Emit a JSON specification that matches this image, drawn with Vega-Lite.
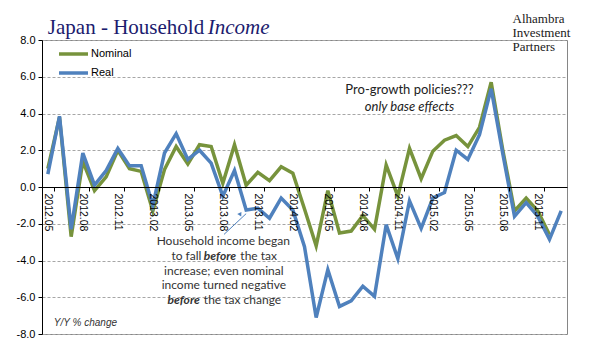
{
  "$schema": "https://vega.github.io/schema/vega-lite/v6.json",
  "width": 525,
  "height": 294,
  "autosize": {"type": "none"},
  "padding": {"left": 42, "top": 40, "right": 29, "bottom": 27},
  "background": "white",
  "config": {
    "view": {"stroke": "#868686", "strokeWidth": 1},
    "font": "Liberation Sans",
    "axisY": {"tickCount": 9, "labelOverlap": false, "labelFlush": false, "grid": true, "gridDash": [3, 2], "gridColor": "#a6a6a6"},
    "axisX": {"labelOverlap": false, "grid": false}
  },
  "data": {"values": [
    {"month": "2012.05", "Nominal": 1.0, "Real": 0.7},
    {"month": "2012.06", "Nominal": 3.8, "Real": 3.85},
    {"month": "2012.07", "Nominal": -2.7, "Real": -2.3},
    {"month": "2012.08", "Nominal": 1.4, "Real": 1.85},
    {"month": "2012.09", "Nominal": -0.2, "Real": 0.1},
    {"month": "2012.10", "Nominal": 0.55, "Real": 0.9},
    {"month": "2012.11", "Nominal": 2.0, "Real": 2.1},
    {"month": "2012.12", "Nominal": 1.0, "Real": 1.15},
    {"month": "2013.01", "Nominal": 0.85, "Real": 1.15},
    {"month": "2013.02", "Nominal": -1.3, "Real": -1.0},
    {"month": "2013.03", "Nominal": 0.95, "Real": 1.85},
    {"month": "2013.04", "Nominal": 2.2, "Real": 2.9},
    {"month": "2013.05", "Nominal": 1.25, "Real": 1.5},
    {"month": "2013.06", "Nominal": 2.3, "Real": 2.0},
    {"month": "2013.07", "Nominal": 2.2, "Real": 1.3},
    {"month": "2013.08", "Nominal": 0.2, "Real": -0.5},
    {"month": "2013.09", "Nominal": 2.3, "Real": 0.9},
    {"month": "2013.10", "Nominal": 0.1, "Real": -1.25},
    {"month": "2013.11", "Nominal": 0.8, "Real": -1.15},
    {"month": "2013.12", "Nominal": 0.35, "Real": -1.7},
    {"month": "2014.01", "Nominal": 1.1, "Real": -0.6},
    {"month": "2014.02", "Nominal": 0.75, "Real": -1.25},
    {"month": "2014.03", "Nominal": -1.2, "Real": -3.25},
    {"month": "2014.04", "Nominal": -3.2, "Real": -7.1},
    {"month": "2014.05", "Nominal": -0.2, "Real": -4.5},
    {"month": "2014.06", "Nominal": -2.5, "Real": -6.5},
    {"month": "2014.07", "Nominal": -2.4, "Real": -6.2},
    {"month": "2014.08", "Nominal": -1.55, "Real": -5.4},
    {"month": "2014.09", "Nominal": -2.3, "Real": -5.95},
    {"month": "2014.10", "Nominal": 1.2, "Real": -2.05},
    {"month": "2014.11", "Nominal": -0.5, "Real": -3.9},
    {"month": "2014.12", "Nominal": 2.1, "Real": -0.75},
    {"month": "2015.01", "Nominal": 0.45, "Real": -2.25},
    {"month": "2015.02", "Nominal": 1.95, "Real": -0.6},
    {"month": "2015.03", "Nominal": 2.55, "Real": -0.3},
    {"month": "2015.04", "Nominal": 2.8, "Real": 2.0},
    {"month": "2015.05", "Nominal": 2.2, "Real": 1.5},
    {"month": "2015.06", "Nominal": 3.25, "Real": 2.85},
    {"month": "2015.07", "Nominal": 5.7, "Real": 5.35},
    {"month": "2015.08", "Nominal": 2.0, "Real": 1.8},
    {"month": "2015.09", "Nominal": -1.3, "Real": -1.6},
    {"month": "2015.10", "Nominal": -0.6, "Real": -0.85},
    {"month": "2015.11", "Nominal": -1.3, "Real": -1.6},
    {"month": "2015.12", "Nominal": -2.6, "Real": -2.85},
    {"month": "2016.01", "Nominal": null, "Real": -1.3}
  ]},
  "layer": [
    {
      "transform": [{"fold": ["Nominal", "Real"], "as": ["series", "value"]}],
      "mark": {"type": "line", "strokeWidth": 3.5},
      "encoding": {
        "x": {
          "field": "month", "type": "ordinal", "bandPosition": 0.5,
          "scale": {"type": "band", "paddingInner": 0, "paddingOuter": 0},
          "axis": {
            "title": null,
            "values": ["2012.05","2012.08","2012.11","2013.02","2013.05","2013.08","2013.11","2014.02","2014.05","2014.08","2014.11","2015.02","2015.05","2015.08","2015.11"],
            "labelAngle": 90, "labelFontSize": 10.5, "labelColor": "black", "labelOverlap": false,
            "tickColor": "black", "domainColor": "black", "tickSize": 4, "labelPadding": 2,
            "offset": -147, "tickBand": "extent", "grid": false, "zindex": 1
          }
        },
        "y": {
          "field": "value", "type": "quantitative",
          "scale": {"domain": [-8, 8], "nice": false},
          "axis": {
            "title": null, "values": [-8,-6,-4,-2,0,2,4,6,8], "tickCount": 9,
            "labelExpr": "replace(format(datum.value, '.1f'), '\u2212', '-')",
            "labelOverlap": false, "labelFlush": false,
            "labelFontSize": 11, "labelColor": "black", "tickColor": "black", "domainColor": "black",
            "tickSize": 4, "labelPadding": 3,
            "grid": true, "gridDash": [3, 2], "gridColor": "#a6a6a6"
          }
        },
        "color": {
          "field": "series", "type": "nominal",
          "scale": {"domain": ["Nominal", "Real"], "range": ["#77933C", "#4F81BD"]},
          "legend": {
            "title": null, "orient": "none", "legendX": 15, "legendY": 4.5,
            "symbolType": "stroke", "symbolSize": 841, "symbolStrokeWidth": 3.5, "clipHeight": 19,
            "labelFontSize": 11, "labelOffset": 1, "rowPadding": 0, "padding": 0, "labelColor": "black"
          }
        }
      }
    },
    {
      "data": {"values": [{}]},
      "mark": {"type": "text", "text": "Japan - Household", "font": "Liberation Serif", "fontSize": 21, "color": "#1b1b6e", "align": "left", "baseline": "alphabetic"},
      "encoding": {"x": {"datum": "2012.05", "type": "ordinal", "bandPosition": 0.5}, "y": {"datum": 8.35, "type": "quantitative"}}
    },
    {
      "data": {"values": [{}]},
      "mark": {"type": "text", "text": "Income", "font": "Liberation Serif", "fontSize": 21, "fontStyle": "italic", "color": "#1b1b6e", "align": "left", "baseline": "alphabetic", "dx": -3.5},
      "encoding": {"x": {"datum": "2013.07", "type": "ordinal", "bandPosition": 0.5}, "y": {"datum": 8.35, "type": "quantitative"}}
    },
    {
      "data": {"values": [{}]},
      "mark": {"type": "text", "text": ["Alhambra", "Investment", "Partners"], "font": "Liberation Serif", "fontSize": 13, "lineHeight": 14, "color": "#1a1a1a", "align": "left", "baseline": "top", "dx": -2},
      "encoding": {"x": {"datum": "2015.09", "type": "ordinal", "bandPosition": 0.5}, "y": {"datum": 9.45, "type": "quantitative"}}
    },
    {
      "data": {"values": [{}]},
      "mark": {"type": "text", "text": "Pro-growth policies???", "font": "Lato", "fontSize": 13, "color": "#222", "align": "center", "baseline": "middle"},
      "encoding": {"x": {"datum": "2014.12", "type": "ordinal", "bandPosition": 0.5}, "y": {"datum": 5.3, "type": "quantitative"}}
    },
    {
      "data": {"values": [{}]},
      "mark": {"type": "text", "text": "only base effects", "font": "Lato", "fontSize": 13, "fontStyle": "italic", "color": "#222", "align": "center", "baseline": "middle"},
      "encoding": {"x": {"datum": "2014.12", "type": "ordinal", "bandPosition": 0.5}, "y": {"datum": 4.34, "type": "quantitative"}}
    },
    {
      "data": {"values": [{}]},
      "mark": {"type": "text", "text": "Household income began", "font": "Lato", "fontSize": 12, "color": "#333", "align": "center", "baseline": "middle", "dx": 0.5},
      "encoding": {"x": {"datum": "2013.08", "type": "ordinal", "bandPosition": 0.5}, "y": {"datum": -2.96, "type": "quantitative"}}
    },
    {
      "data": {"values": [{}]},
      "mark": {"type": "text", "text": "to fall", "font": "Lato", "fontSize": 12, "color": "#333", "align": "right", "baseline": "middle", "dx": -21.5},
      "encoding": {"x": {"datum": "2013.08", "type": "ordinal", "bandPosition": 0.5}, "y": {"datum": -3.77, "type": "quantitative"}}
    },
    {
      "data": {"values": [{}]},
      "mark": {"type": "text", "text": "before", "font": "Lato", "fontSize": 12, "fontWeight": "bold", "fontStyle": "italic", "color": "#333", "align": "left", "baseline": "middle", "dx": -19},
      "encoding": {"x": {"datum": "2013.08", "type": "ordinal", "bandPosition": 0.5}, "y": {"datum": -3.77, "type": "quantitative"}}
    },
    {
      "data": {"values": [{}]},
      "mark": {"type": "text", "text": "the tax", "font": "Lato", "fontSize": 12, "color": "#333", "align": "left", "baseline": "middle", "dx": 17.5},
      "encoding": {"x": {"datum": "2013.08", "type": "ordinal", "bandPosition": 0.5}, "y": {"datum": -3.77, "type": "quantitative"}}
    },
    {
      "data": {"values": [{}]},
      "mark": {"type": "text", "text": "increase; even nominal", "font": "Lato", "fontSize": 12, "color": "#333", "align": "center", "baseline": "middle", "dx": 1},
      "encoding": {"x": {"datum": "2013.08", "type": "ordinal", "bandPosition": 0.5}, "y": {"datum": -4.58, "type": "quantitative"}}
    },
    {
      "data": {"values": [{}]},
      "mark": {"type": "text", "text": "income turned negative", "font": "Lato", "fontSize": 12, "color": "#333", "align": "center", "baseline": "middle", "dx": 1},
      "encoding": {"x": {"datum": "2013.08", "type": "ordinal", "bandPosition": 0.5}, "y": {"datum": -5.34, "type": "quantitative"}}
    },
    {
      "data": {"values": [{}]},
      "mark": {"type": "text", "text": "before", "font": "Lato", "fontSize": 12, "fontWeight": "bold", "fontStyle": "italic", "color": "#333", "align": "right", "baseline": "middle", "dx": -23},
      "encoding": {"x": {"datum": "2013.08", "type": "ordinal", "bandPosition": 0.5}, "y": {"datum": -6.15, "type": "quantitative"}}
    },
    {
      "data": {"values": [{}]},
      "mark": {"type": "text", "text": "the tax change", "font": "Lato", "fontSize": 12, "color": "#333", "align": "left", "baseline": "middle", "dx": -19},
      "encoding": {"x": {"datum": "2013.08", "type": "ordinal", "bandPosition": 0.5}, "y": {"datum": -6.15, "type": "quantitative"}}
    },
    {
      "data": {"values": [{}]},
      "mark": {"type": "text", "text": "Y/Y % change", "font": "Liberation Sans", "fontSize": 10, "fontStyle": "italic", "color": "#333", "align": "left", "baseline": "middle", "dx": 6},
      "encoding": {"x": {"datum": "2012.05", "type": "ordinal", "bandPosition": 0.5}, "y": {"datum": -7.39, "type": "quantitative"}}
    },
    {
      "data": {"values": [{}]},
      "mark": {"type": "rule", "color": "#4F81BD", "strokeWidth": 1},
      "encoding": {
        "x": {"datum": "2013.08", "type": "ordinal", "bandPosition": 0.6},
        "x2": {"datum": "2013.10"},
        "y": {"datum": -2.58, "type": "quantitative"},
        "y2": {"datum": -1.45}
      }
    },
    {
      "data": {"values": [{}]},
      "mark": {"type": "point", "shape": "triangle-up", "filled": true, "color": "#4F81BD", "size": 22, "angle": 32, "opacity": 1},
      "encoding": {
        "x": {"datum": "2013.10", "type": "ordinal", "bandPosition": 0},
        "y": {"datum": -1.45, "type": "quantitative"}
      }
    }
  ]
}
